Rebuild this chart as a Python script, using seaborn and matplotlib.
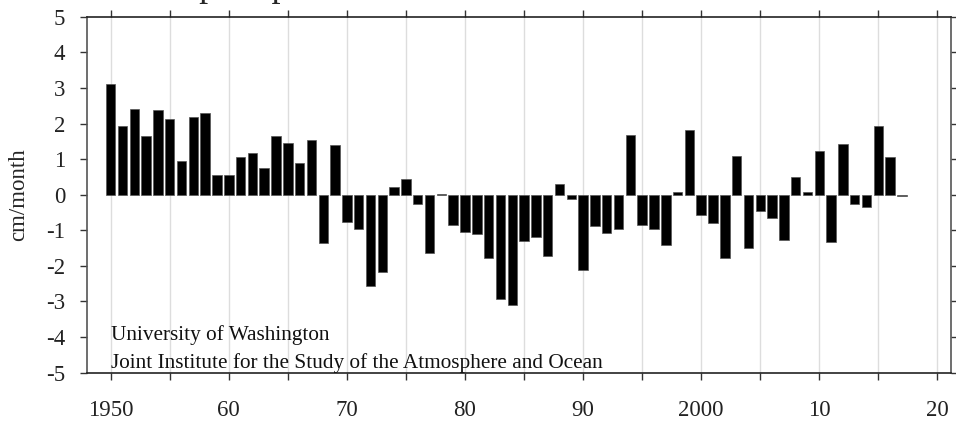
import matplotlib
matplotlib.use("Agg")
import matplotlib.pyplot as plt
import seaborn as sns
import pandas as pd

sns.set_style("ticks")
plt.rcParams["font.family"] = ["Liberation Serif", "DejaVu Serif"]

# Sahel June-October precipitation anomalies (cm/month)
years = list(range(1950, 2018))
anomaly = [
    3.11, 1.92, 2.41, 1.64, 2.39, 2.14, 0.95, 2.17, 2.29, 0.56,
    0.55, 1.06, 1.18, 0.75, 1.66, 1.45, 0.90, 1.53, -1.36, 1.39,
    -0.78, -0.95, -2.57, -2.16, 0.23, 0.45, -0.26, -1.64, 0.03, -0.85,
    -1.05, -1.09, -1.77, -2.93, -3.10, -1.29, -1.20, -1.72, 0.30, -0.12,
    -2.12, -0.89, -1.08, -0.97, 1.67, -0.84, -0.95, -1.42, 0.07, 1.81,
    -0.58, -0.79, -1.77, 1.08, -1.51, -0.47, -0.65, -1.27, 0.49, 0.07,
    1.23, -1.33, 1.43, -0.25, -0.34, 1.92, 1.05, -0.05,
]

x_ticks = list(range(1950, 2021, 5))
x_labels = ["1950", "", "60", "", "70", "", "80", "", "90", "",
            "2000", "", "10", "", "20"]
y_ticks = list(range(-5, 6))
y_labels = [str(v) for v in y_ticks]

title = "Sahel precipitation anomalies June-October"
credit_1 = "University of Washington"
credit_2 = "Joint Institute for the Study of the Atmosphere and Ocean"

df = pd.DataFrame({"year": years, "anomaly": anomaly})

fig = plt.figure(figsize=(9.56, 4.24), dpi=100)
ax = fig.add_axes([0.0913, 0.121, 0.9035, 0.8396])

sns.barplot(data=df, x="year", y="anomaly", native_scale=True, color="black",
            saturation=1, width=0.8, edgecolor="#555555", linewidth=0.5, ax=ax,
            zorder=3)

ax.set_xlim(1948.02, 2021.15)
ax.set_ylim(-5, 5)
ax.set_xticks(x_ticks)
ax.set_xticklabels(x_labels, fontsize=16.5)
ax.set_yticks(y_ticks)
ax.set_yticklabels(y_labels, fontsize=16.5)
ax.set_xlabel("")
ax.set_ylabel("cm/month", fontsize=16.5, labelpad=12)

ax.grid(axis="x", color="#dddddd", linewidth=1, zorder=0)
ax.grid(axis="y", visible=False)

ax.tick_params(axis="both", which="both", direction="out", length=5, width=1,
               color="#333333", top=True, right=True, labelcolor="#222222")
ax.tick_params(axis="x", pad=15)
ax.tick_params(axis="y", pad=11)

for side in ["left", "right"]:
    ax.spines[side].set_color("#555555")
    ax.spines[side].set_linewidth(1.2)
for side in ["top", "bottom"]:
    ax.spines[side].set_color("#222222")
    ax.spines[side].set_linewidth(1.2)

ax.text(1950, -4.09, credit_1, fontsize=15.3, va="baseline", ha="left", color="#111111")
ax.text(1950, -4.88, credit_2, fontsize=15.3, va="baseline", ha="left", color="#111111")

# title sits above the canvas as in the source, only descenders show
fig.text(0.445, 1 + 4 / 424, title, fontsize=26, ha="center", va="baseline")

fig.savefig("out.png", dpi=100)
plt.close()
